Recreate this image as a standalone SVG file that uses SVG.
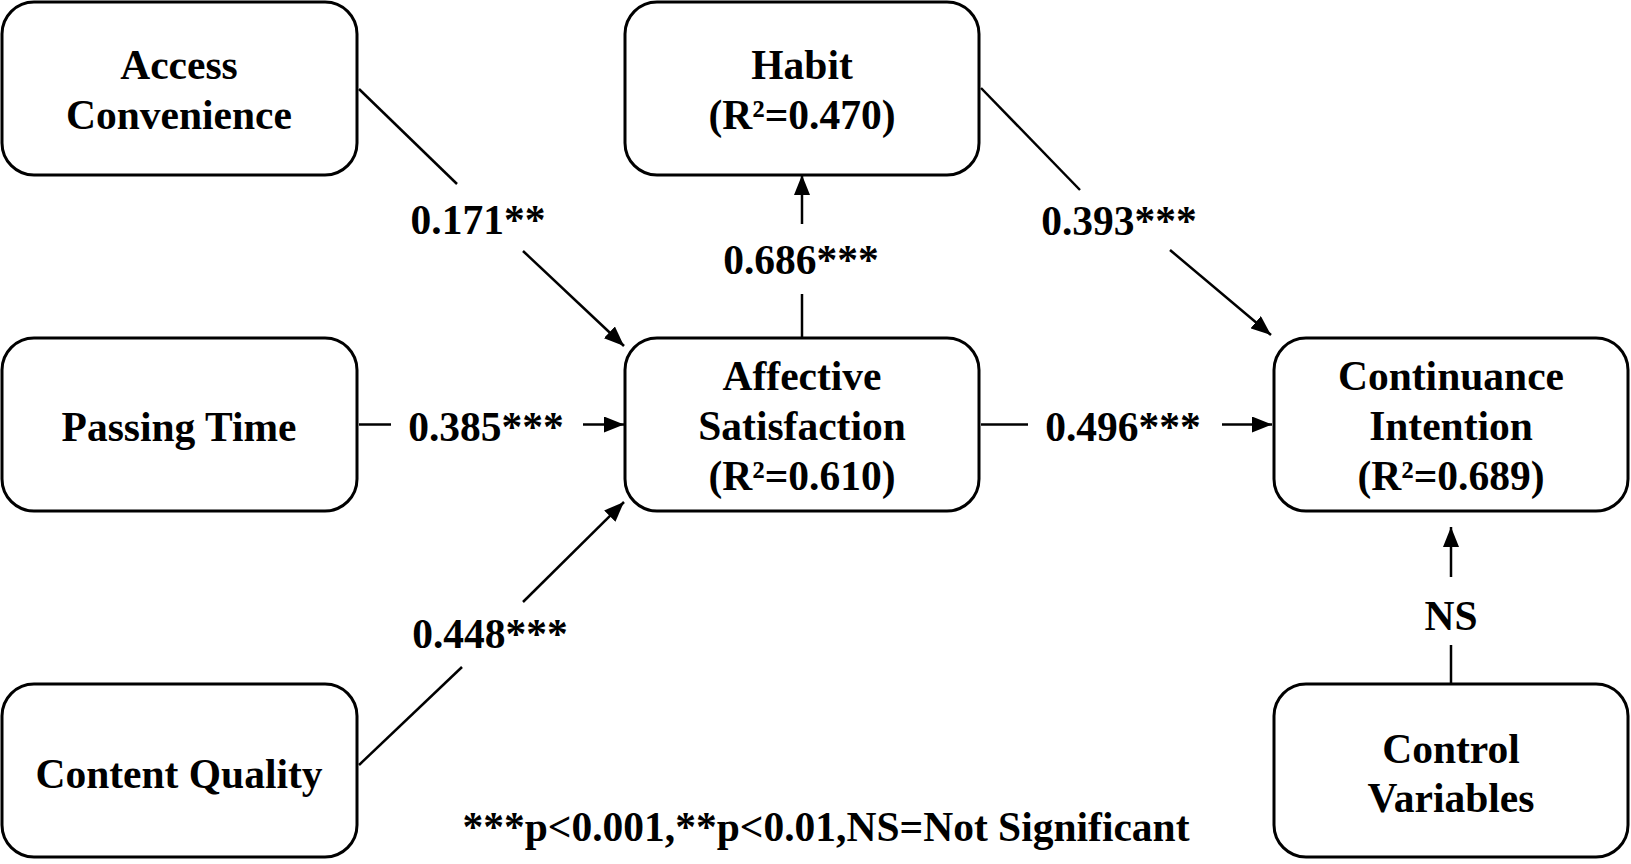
<svg xmlns="http://www.w3.org/2000/svg" width="1631" height="864" viewBox="0 0 1631 864">
<style>
.box{fill:#fff;stroke:#000;stroke-width:3}
.t{font-family:"Liberation Serif","Times New Roman",serif;font-weight:bold;font-size:41.5px;fill:#000;text-anchor:middle}
.c{stroke:#000;stroke-width:2.5;fill:none}
</style>
<defs>
<marker id="ah" markerUnits="userSpaceOnUse" markerWidth="22" markerHeight="16" refX="20" refY="8" orient="auto">
<path d="M0,0 L20,8 L0,16 z" fill="#000"/>
</marker>
</defs>
<rect width="1631" height="864" fill="#fff"/>
<g id="connectors">
<line class="c" x1="359" y1="89" x2="457" y2="184"/>
<line class="c" x1="523" y1="251" x2="624" y2="346" marker-end="url(#ah)"/>
<line class="c" x1="359" y1="424.5" x2="391" y2="424.5"/>
<line class="c" x1="583" y1="424.5" x2="624" y2="424.5" marker-end="url(#ah)"/>
<line class="c" x1="359" y1="765" x2="462" y2="667"/>
<line class="c" x1="523" y1="602" x2="624" y2="502" marker-end="url(#ah)"/>
<line class="c" x1="802" y1="338" x2="802" y2="294"/>
<line class="c" x1="802" y1="224" x2="802" y2="175" marker-end="url(#ah)"/>
<line class="c" x1="981" y1="88" x2="1080" y2="190"/>
<line class="c" x1="1170" y1="250" x2="1271" y2="335" marker-end="url(#ah)"/>
<line class="c" x1="981" y1="424.5" x2="1028" y2="424.5"/>
<line class="c" x1="1222" y1="424.5" x2="1272" y2="424.5" marker-end="url(#ah)"/>
<line class="c" x1="1451" y1="684" x2="1451" y2="645"/>
<line class="c" x1="1451" y1="577" x2="1451" y2="527" marker-end="url(#ah)"/>
<text class="t" x="478" y="234">0.171**</text>
<text class="t" x="486" y="440.5">0.385***</text>
<text class="t" x="490" y="648">0.448***</text>
<text class="t" x="801" y="274">0.686***</text>
<text class="t" x="1119" y="234.5">0.393***</text>
<text class="t" x="1123" y="440.5">0.496***</text>
<text class="t" x="1451" y="630">NS</text>
</g>
<g id="access">
<rect class="box" x="2" y="2" width="355" height="173" rx="32"/>
<text class="t" x="179" y="78.5">Access</text>
<text class="t" x="179" y="128.5">Convenience</text>
</g>
<g id="habit">
<rect class="box" x="625" y="2" width="354" height="173" rx="32"/>
<text class="t" x="802" y="78.5">Habit</text>
<text class="t" x="802" y="128.5">(R²=0.470)</text>
</g>
<g id="passing">
<rect class="box" x="2" y="338" width="355" height="173" rx="32"/>
<text class="t" x="179" y="440.5">Passing Time</text>
</g>
<g id="affective">
<rect class="box" x="625" y="338" width="354" height="173" rx="32"/>
<text class="t" x="802" y="390">Affective</text>
<text class="t" x="802" y="440">Satisfaction</text>
<text class="t" x="802" y="490">(R²=0.610)</text>
</g>
<g id="continuance">
<rect class="box" x="1274" y="338" width="354" height="173" rx="32"/>
<text class="t" x="1451" y="390">Continuance</text>
<text class="t" x="1451" y="440">Intention</text>
<text class="t" x="1451" y="490">(R²=0.689)</text>
</g>
<g id="content">
<rect class="box" x="2" y="684" width="355" height="173" rx="32"/>
<text class="t" x="179" y="788">Content Quality</text>
</g>
<g id="control">
<rect class="box" x="1274" y="684" width="354" height="173" rx="32"/>
<text class="t" x="1451" y="763">Control</text>
<text class="t" x="1451" y="812">Variables</text>
</g>
<g id="footnote">
<text class="t" x="826" y="841">***p&lt;0.001,**p&lt;0.01,NS=Not Significant</text>
</g>
</svg>
